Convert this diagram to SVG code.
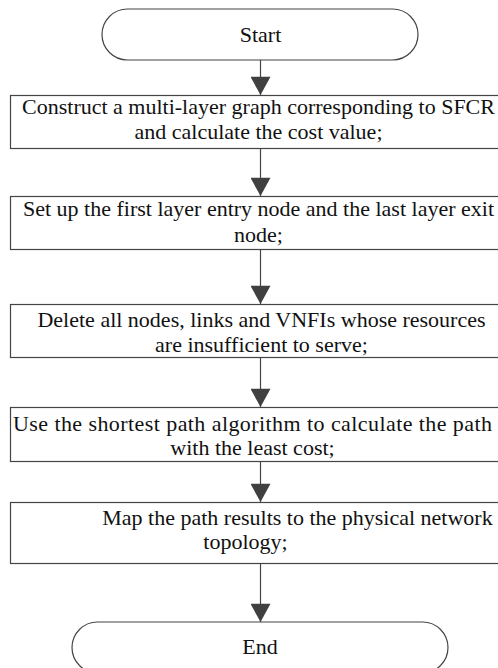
<svg xmlns="http://www.w3.org/2000/svg" width="498" height="668" viewBox="0 0 498 668" font-family="'Liberation Serif', 'Times New Roman', serif" font-size="22">
<style>
.s{fill:#fff;stroke:#444;stroke-width:1.2}
.c{stroke:#444;stroke-width:1.2;fill:none}
</style>
<defs>
<marker id="ah" markerUnits="userSpaceOnUse" markerWidth="22" markerHeight="20" refX="20" refY="11" orient="auto" viewBox="0 0 20 22">
<path d="M0,0 L20,11 L0,22 Z" fill="#404040"/>
</marker>
</defs>
<rect width="498" height="668" fill="#fff"/>
<g id="connectors">
<line class="c" x1="260.5" y1="60" x2="260.5" y2="95" marker-end="url(#ah)"/>
<line class="c" x1="260.5" y1="149" x2="260.5" y2="196" marker-end="url(#ah)"/>
<line class="c" x1="260.5" y1="250" x2="260.5" y2="304" marker-end="url(#ah)"/>
<line class="c" x1="260.5" y1="358" x2="260.5" y2="407" marker-end="url(#ah)"/>
<line class="c" x1="260.5" y1="462" x2="260.5" y2="502" marker-end="url(#ah)"/>
<line class="c" x1="260.5" y1="564" x2="260.5" y2="622" marker-end="url(#ah)"/>
</g>
<g id="start">
<rect class="s" x="102" y="9" width="316" height="51" rx="25.5"/>
<text x="260.5" y="42" text-anchor="middle" fill="#111">Start</text>
</g>
<g id="step1" fill="#111">
<rect class="s" x="10.5" y="95.5" width="500" height="53"/>
<text x="258.5" y="114" text-anchor="middle">Construct a multi-layer graph corresponding to SFCR</text>
<text x="258.5" y="139" text-anchor="middle">and calculate the cost value;</text>
</g>
<g id="step2" fill="#111">
<rect class="s" x="10.5" y="196.5" width="500" height="53"/>
<text x="258.5" y="216" text-anchor="middle">Set up the first layer entry node and the last layer exit</text>
<text x="258.5" y="242" text-anchor="middle">node;</text>
</g>
<g id="step3" fill="#111">
<rect class="s" x="10.5" y="304.5" width="500" height="53"/>
<text x="261.5" y="327" text-anchor="middle">Delete all nodes, links and VNFIs whose resources</text>
<text x="261.5" y="352" text-anchor="middle">are insufficient to serve;</text>
</g>
<g id="step4" fill="#111">
<rect class="s" x="10.5" y="407.5" width="500" height="54"/>
<text x="13" y="431" textLength="479" lengthAdjust="spacing">Use the shortest path algorithm to calculate the path</text>
<text x="252.5" y="455" text-anchor="middle">with the least cost;</text>
</g>
<g id="step5" fill="#111">
<rect class="s" x="10.5" y="502.5" width="500" height="61"/>
<text x="297.5" y="525" text-anchor="middle">Map the path results to the physical network</text>
<text x="245.5" y="549" text-anchor="middle">topology;</text>
</g>
<g id="end" fill="#111">
<rect class="s" x="72" y="622" width="376" height="51" rx="25.5"/>
<text x="260" y="654" text-anchor="middle">End</text>
</g>
</svg>
